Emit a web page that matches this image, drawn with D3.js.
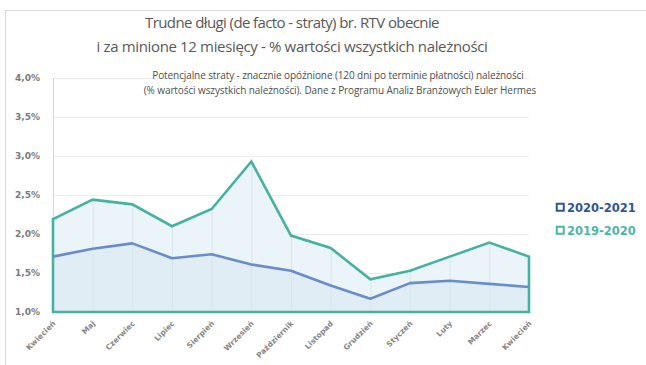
<!DOCTYPE html>
<html>
<head>
<meta charset="utf-8">
<script src="https://cdn.jsdelivr.net/npm/d3@7/dist/d3.min.js"></script>
<style>
  html, body { margin: 0; padding: 0; background: #fff; }
  svg { display: block; }
</style>
</head>
<body>
<svg id="chart" width="646" height="365"></svg>
<script>
// Months from April to April (13 monthly readings)
const months = ["Kwiecień", "Maj", "Czerwiec", "Lipiec", "Sierpień", "Wrzesień",
  "Październik", "Listopad", "Grudzień", "Styczeń", "Luty", "Marzec", "Kwiecień"];
// Share of receivables overdue >120 days, in percent
const values2019_2020 = [2.19, 2.44, 2.38, 2.10, 2.32, 2.93, 1.98, 1.82, 1.42, 1.53, 1.71, 1.89, 1.71];
const values2020_2021 = [1.71, 1.81, 1.88, 1.69, 1.74, 1.61, 1.53, 1.34, 1.17, 1.37, 1.40, 1.36, 1.32];
const yTicks = [1.0, 1.5, 2.0, 2.5, 3.0, 3.5, 4.0];
const seriesNames = ["2020-2021", "2019-2020"];

const svg = d3.select("#chart");
const plot = { left: 53, right: 529, top: 78, bottom: 312 };

// outer frame
svg.append("rect")
  .attr("x", 5.5).attr("y", 10.5).attr("width", 700).attr("height", 400)
  .attr("fill", "none").attr("stroke", "#d9d9d9").attr("stroke-width", 1);

const x = d3.scalePoint().domain(d3.range(months.length)).range([plot.left, plot.right]);
const y = d3.scaleLinear().domain([1.0, 4.0]).range([plot.bottom, plot.top]);

// horizontal gridlines
svg.append("g").selectAll("line").data(yTicks).join("line")
  .attr("x1", plot.left).attr("x2", plot.right)
  .attr("y1", d => y(d) + 0.5).attr("y2", d => y(d) + 0.5)
  .attr("stroke", "#ececec").attr("stroke-width", 1);

// left axis line
svg.append("line")
  .attr("x1", plot.left + 0.5).attr("x2", plot.left + 0.5)
  .attr("y1", plot.top).attr("y2", plot.bottom)
  .attr("stroke", "#d8d8d8");

// y axis labels
const yAxis = d3.axisLeft(y).tickValues(yTicks).tickSize(0).tickPadding(13)
  .tickFormat(d => d3.format(".1f")(d).replace(".", ",") + "%");
const yg = svg.append("g").attr("transform", `translate(${plot.left},0)`).call(yAxis);
yg.select(".domain").remove();
yg.selectAll("text")
  .attr("font-family", "'DejaVu Sans', sans-serif")
  .attr("font-size", 9).attr("font-weight", "bold").attr("fill", "#7a7a7a");

// areas
const area = vals => d3.area()
  .x((d, i) => x(i)).y0(y(1.0)).y1(d => y(d))(vals);

svg.append("path").attr("d", area(values2019_2020))
  .attr("fill", "#ebf4f8");
svg.append("path").attr("d", area(values2020_2021))
  .attr("fill", "#e1edf4");

// vertical category gridlines
svg.append("g").selectAll("line").data(d3.range(1, months.length - 1)).join("line")
  .attr("x1", d => x(d) + 0.5).attr("x2", d => x(d) + 0.5)
  .attr("y1", d => y(values2019_2020[d])).attr("y2", plot.bottom)
  .attr("stroke", "#d8e5ec").attr("stroke-width", 1);

// teal series outline (closed area)
svg.append("path").attr("d", area(values2019_2020) + "Z")
  .attr("fill", "none").attr("stroke", "#45b1a1").attr("stroke-width", 2.6)
  .attr("stroke-linejoin", "miter");

// blue series line
const line = d3.line().x((d, i) => x(i)).y(d => y(d));
svg.append("path").attr("d", line(values2020_2021))
  .attr("fill", "none").attr("stroke", "#6a8cc8").attr("stroke-width", 2.6)
  .attr("stroke-linejoin", "round");

// x axis labels
const xg = svg.append("g");
xg.selectAll("text").data(months).join("text")
  .attr("transform", (d, i) => `translate(${x(i) + 3},${plot.bottom + 12}) rotate(-45)`)
  .attr("text-anchor", "end")
  .attr("font-family", "'DejaVu Sans', sans-serif")
  .attr("font-size", 7.5).attr("font-weight", "bold").attr("fill", "#858585")
  .text(d => d);

// title
const title = svg.append("text")
  .attr("text-anchor", "middle")
  .attr("font-family", "'Open Sans', sans-serif")
  .attr("font-size", 15).attr("fill", "#595959")
  .attr("letter-spacing", -0.6);
title.append("tspan").attr("x", 292).attr("y", 28)
  .text("Trudne długi (de facto - straty) br. RTV obecnie");
title.append("tspan").attr("x", 292).attr("y", 52)
  .attr("letter-spacing", -0.35)
  .text("i za minione 12 miesięcy - % wartości wszystkich należności");

// subtitle
const sub = svg.append("text")
  .attr("text-anchor", "middle")
  .attr("font-family", "'Open Sans', sans-serif")
  .attr("font-size", 10).attr("fill", "#505050")
  .attr("letter-spacing", -0.1);
sub.append("tspan").attr("x", 338).attr("y", 79)
  .text("Potencjalne straty - znacznie opóźnione (120 dni po terminie płatności) należności");
sub.append("tspan").attr("x", 340).attr("y", 94)
  .text("(% wartości wszystkich należności). Dane z Programu Analiz Branżowych Euler Hermes");

// legend
const legendColors = ["#2f5597", "#4db6a6"];
const lg = svg.append("g").selectAll("g").data(seriesNames).join("g")
  .attr("transform", (d, i) => `translate(556,${208 + i * 23})`);
lg.append("rect").attr("x", 0.75).attr("y", -4.25).attr("width", 7).attr("height", 7)
  .attr("fill", "#fff").attr("stroke", (d, i) => legendColors[i]).attr("stroke-width", 2);
lg.append("text").attr("x", 11).attr("y", 4)
  .attr("font-family", "'DejaVu Sans', sans-serif")
  .attr("font-size", 11.5).attr("font-weight", "bold")
  .attr("fill", (d, i) => legendColors[i])
  .text(d => d);
</script>
</body>
</html>
